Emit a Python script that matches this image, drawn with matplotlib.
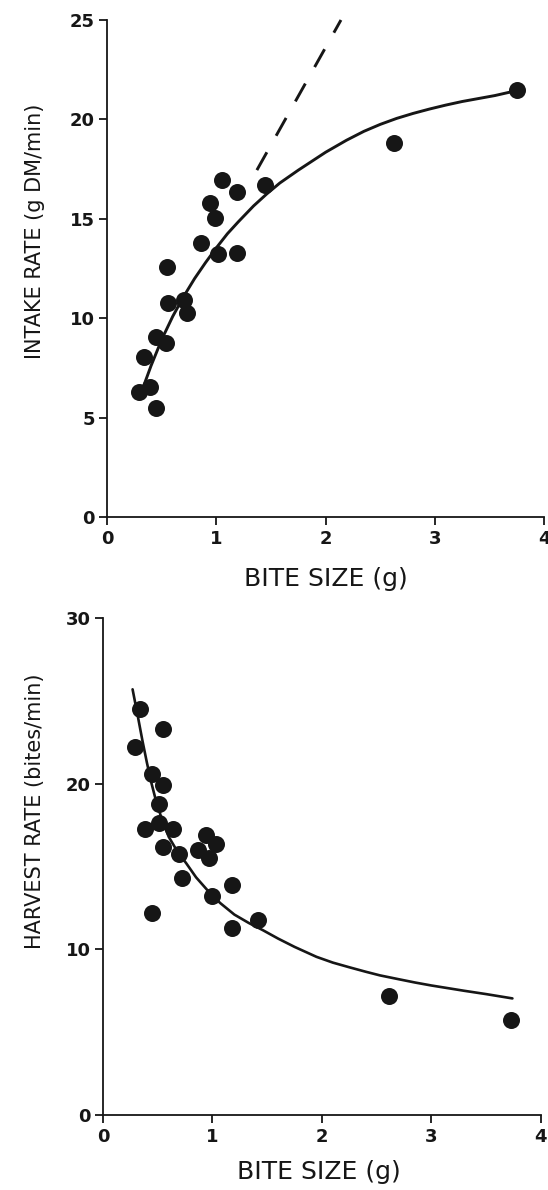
import numpy as np
import matplotlib.pyplot as plt

# upper panel: intake rate vs bite size
bite_top = [1.05, 1.19, 1.44, 0.94, 0.99, 0.86, 1.01, 1.19, 0.55, 0.56,
            0.70, 0.73, 0.45, 0.54, 0.34, 0.29, 0.39, 0.45, 2.63, 3.75]
intake = [16.95, 16.35, 16.70, 15.78, 15.03, 13.77, 13.21, 13.29, 12.56, 10.75,
          10.92, 10.25, 9.07, 8.77, 8.06, 6.27, 6.55, 5.50, 18.83, 21.48]
fit_top_x = [0.33, 0.40, 0.50, 0.60, 0.70, 0.80, 0.90, 1.00, 1.10, 1.20,
             1.34, 1.46, 1.58, 1.75, 2.00, 2.19, 2.35, 2.50, 2.65, 2.80,
             2.95, 3.10, 3.25, 3.41, 3.55, 3.75]
fit_top_y = [6.55, 7.60, 8.95, 10.10, 11.10, 12.00, 12.80, 13.55, 14.25, 14.85,
             15.65, 16.25, 16.80, 17.45, 18.35, 18.95, 19.40, 19.75, 20.05, 20.30,
             20.52, 20.72, 20.90, 21.06, 21.20, 21.45]
dash_x = [1.37, 2.14]
dash_y = [17.45, 25.0]

# lower panel: harvest rate vs bite size
bite_bot = [0.34, 0.55, 0.29, 0.45, 0.55, 0.51, 0.38, 0.51, 0.64, 0.55,
            0.69, 0.94, 1.03, 0.97, 0.87, 0.72, 1.18, 1.00, 0.45, 1.42,
            1.18, 2.61, 3.73]
harvest = [24.5, 23.3, 22.2, 20.6, 19.9, 18.75, 17.25, 17.65, 17.25, 16.2,
           15.75, 16.9, 16.35, 15.5, 16.0, 14.3, 13.9, 13.2, 12.2, 11.8,
           11.3, 7.2, 5.75]
fit_bot_x = [0.27, 0.32, 0.36, 0.40, 0.44, 0.475, 0.53, 0.60, 0.68, 0.76,
             0.85, 0.95, 1.07, 1.20, 1.33, 1.46, 1.60, 1.75, 1.95, 2.10,
             2.25, 2.40, 2.53, 2.70, 2.85, 3.00, 3.15, 3.30, 3.50, 3.74]
fit_bot_y = [25.7, 24.0, 22.6, 21.3, 20.1, 19.2, 18.0, 16.8, 15.9, 15.2,
             14.35, 13.6, 12.8, 12.1, 11.6, 11.16, 10.65, 10.15, 9.55, 9.2,
             8.92, 8.65, 8.43, 8.2, 8.0, 7.82, 7.66, 7.5, 7.3, 7.04]

ink = '#161616'
plt.rcParams['font.family'] = ['DejaVu Sans']

fig = plt.figure(figsize=(5.48, 11.9), dpi=100)
ax1 = fig.add_axes([0.1958, 0.5655, 0.797, 0.4177])
ax2 = fig.add_axes([0.188, 0.063, 0.799, 0.4176])


def style(ax, ymax, yticks, ylabel, ylab_xy, xlab_xy):
    ax.set_xlim(0, 4)
    ax.set_ylim(0, ymax)
    for s in ['top', 'right']:
        ax.spines[s].set_visible(False)
    for s in ['left', 'bottom']:
        ax.spines[s].set_linewidth(1.3)
        ax.spines[s].set_color(ink)
    ax.set_xticks([0, 1, 2, 3, 4])
    ax.set_yticks(yticks)
    ax.tick_params(direction='out', length=6, width=1.3, color=ink, pad=3,
                   labelsize=13, labelcolor=ink)
    for t in ax.get_xticklabels() + ax.get_yticklabels():
        t.set_fontweight('bold')
    ax.set_xlabel('BITE SIZE (g)', fontsize=18, color=ink)
    ax.set_ylabel(ylabel, fontsize=15, color=ink)
    ax.xaxis.set_label_coords(*xlab_xy)
    ax.yaxis.set_label_coords(*ylab_xy)


ax1.plot(fit_top_x, fit_top_y, color=ink, lw=2.1, solid_capstyle='round',
         solid_joinstyle='round')
ax1.plot(dash_x, dash_y, color=ink, lw=2.1, dashes=(7, 6.5), clip_on=False)
ax1.scatter(bite_top, intake, s=150, color=ink, zorder=3, clip_on=False, linewidths=0)
style(ax1, 25, [0, 5, 10, 15, 20, 25], 'INTAKE RATE (g DM/min)', (-0.143, 0.575), (0.5, -0.10))

ax2.plot(fit_bot_x, fit_bot_y, color=ink, lw=1.9, solid_capstyle='round',
         solid_joinstyle='round')
ax2.scatter(bite_bot, harvest, s=150, color=ink, zorder=3, clip_on=False, linewidths=0)
style(ax2, 30, [0, 10, 20, 30], 'HARVEST RATE (bites/min)', (-0.132, 0.612), (0.492, -0.09))

fig.savefig('out.png', dpi=100)
